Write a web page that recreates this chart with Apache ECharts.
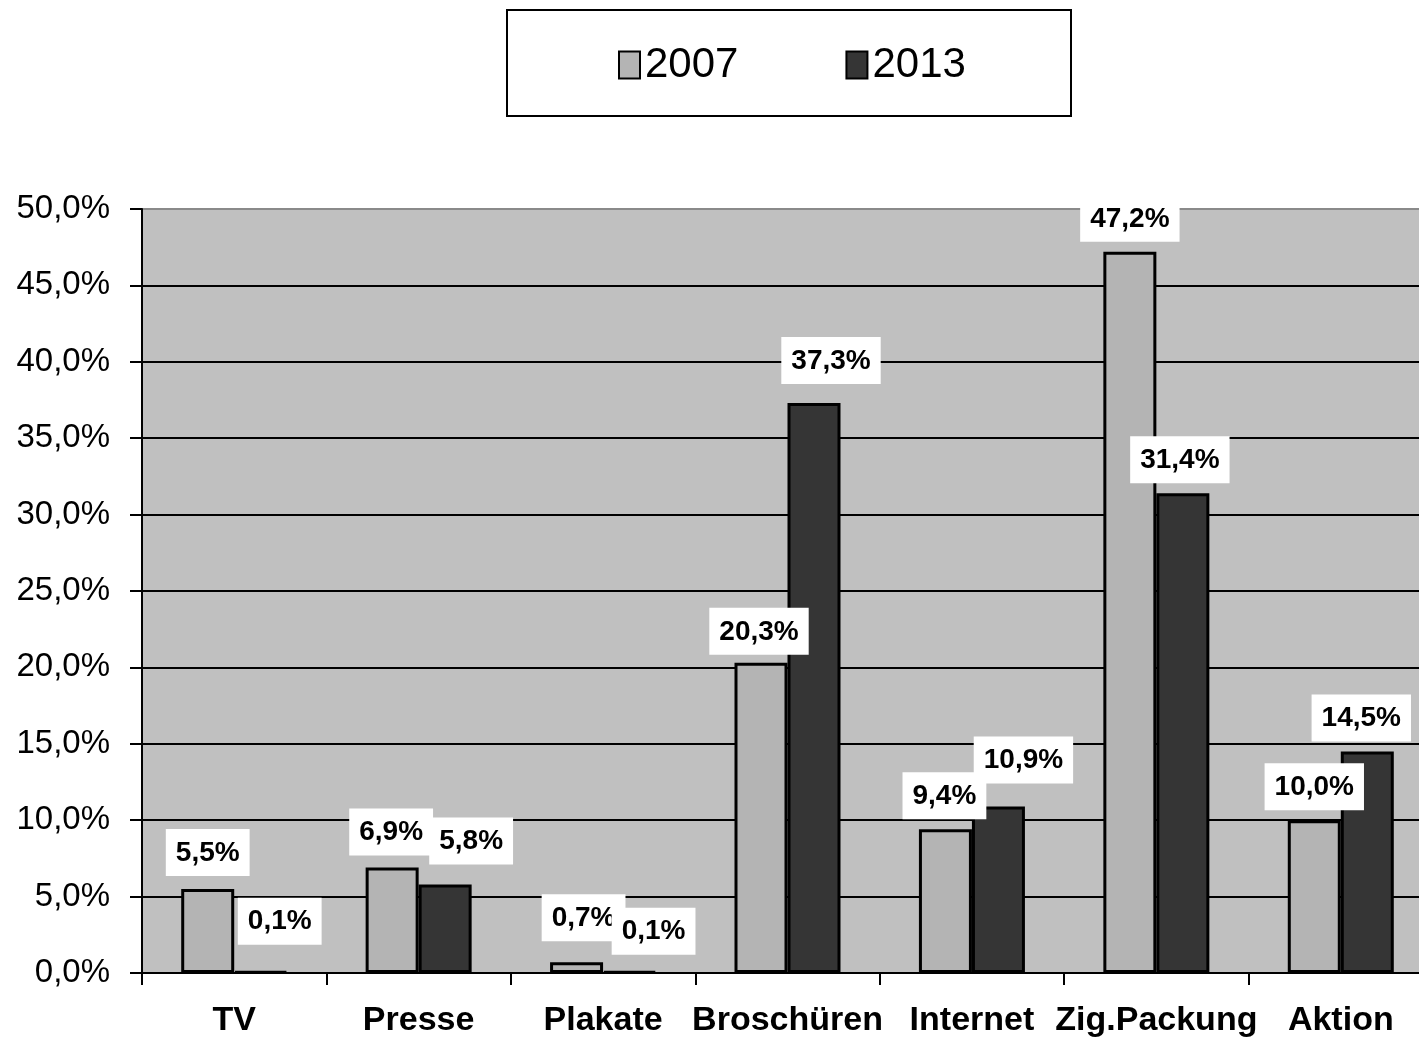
<!DOCTYPE html>
<html>
<head>
<meta charset="utf-8">
<title>Werbekanäle 2007 / 2013</title>
<script src="https://cdn.jsdelivr.net/npm/echarts@6/dist/echarts.min.js"></script>
<style>
  html, body { margin: 0; padding: 0; background: #ffffff; overflow: hidden; }
  /* the plot area runs a little past the right edge of the page */
  #chart { width: 1440px; height: 1042px; }
</style>
</head>
<body>
<div id="chart"></div>
<script>
// Kategorien und Anteile (in Prozent)
const categories = ['TV', 'Presse', 'Plakate', 'Broschüren', 'Internet', 'Zig.Packung', 'Aktion'];
const values2007 = [5.5, 6.9, 0.7, 20.3, 9.4, 47.2, 10.0];
const values2013 = [0.1, 5.8, 0.1, 37.3, 10.9, 31.4, 14.5];
const seriesNames = ['2007', '2013'];

// Verschiebung der Wertelabels, damit sie sich nicht überlappen
const labelShift2007 = [[0, -3], [-1, -2], [7, -11], [-2, 2], [-1, 0], [0, 0], [0, 0]];
const labelShift2013 = [[19, -16], [26, -10], [24, -6], [17, -9], [25, -13], [-3, 0], [-6, 0]];

const sans = '"Liberation Sans", Arial, sans-serif';

function pct(v) {
  return v.toFixed(1).replace('.', ',') + '%';
}

const labelStyle = {
  show: true,
  position: 'top',
  distance: 10,
  formatter: p => pct(p.value),
  fontFamily: sans,
  fontWeight: 'bold',
  fontSize: 28,
  lineHeight: 34,
  color: '#000000',
  backgroundColor: '#ffffff',
  padding: [7, 10, 6, 10]
};

function buildData(values, shifts) {
  return values.map((v, i) => ({
    value: v,
    label: { offset: shifts[i] }
  }));
}

const chart = echarts.init(document.getElementById('chart'), null, { renderer: 'canvas' });

chart.setOption({
  backgroundColor: '#ffffff',
  animation: false,
  graphic: [{
    type: 'rect',
    shape: { x: 507, y: 10, width: 564, height: 106 },
    style: { fill: '#ffffff', stroke: '#000000', lineWidth: 2 },
    z: 0
  }],
  legend: {
    data: seriesNames,
    left: 613,
    top: 36,
    icon: 'rect',
    itemWidth: 21,
    itemHeight: 27,
    itemGap: 107,
    textStyle: {
      fontFamily: sans,
      fontSize: 42,
      lineHeight: 48,
      color: '#000000'
    },
    z: 5
  },
  grid: {
    left: 142,
    top: 209,
    width: 1291,
    height: 764,
    show: true,
    backgroundColor: '#c0c0c0',
    borderWidth: 0
  },
  xAxis: {
    type: 'category',
    data: categories,
    axisLine: { show: true, lineStyle: { color: '#000000', width: 2 } },
    axisTick: { show: true, length: 12, lineStyle: { color: '#000000', width: 2 } },
    axisLabel: {
      margin: 31,
      fontFamily: sans,
      fontWeight: 'bold',
      fontSize: 34,
      color: '#000000',
      interval: 0
    }
  },
  yAxis: {
    type: 'value',
    min: 0,
    max: 50,
    interval: 5,
    axisLine: { show: true, lineStyle: { color: '#000000', width: 2 } },
    axisTick: { show: true, length: 12, lineStyle: { color: '#000000', width: 2 } },
    axisLabel: {
      margin: 32,
      fontFamily: sans,
      fontSize: 33,
      color: '#000000',
      formatter: v => pct(v)
    },
    splitLine: {
      show: true,
      lineStyle: {
        color: ['#000000', '#000000', '#000000', '#000000', '#000000', '#000000',
                '#000000', '#000000', '#000000', '#000000', '#8a8a8a'],
        width: 2
      }
    }
  },
  series: [
    {
      name: seriesNames[0],
      type: 'bar',
      barWidth: 53,
      barGap: '0%',
      data: buildData(values2007, labelShift2007),
      itemStyle: { color: '#b4b4b4', borderColor: '#000000', borderWidth: 3 },
      label: labelStyle
    },
    {
      name: seriesNames[1],
      type: 'bar',
      barWidth: 53,
      barGap: '0%',
      data: buildData(values2013, labelShift2013),
      itemStyle: { color: '#353535', borderColor: '#000000', borderWidth: 3 },
      label: labelStyle
    }
  ]
});
</script>
</body>
</html>
